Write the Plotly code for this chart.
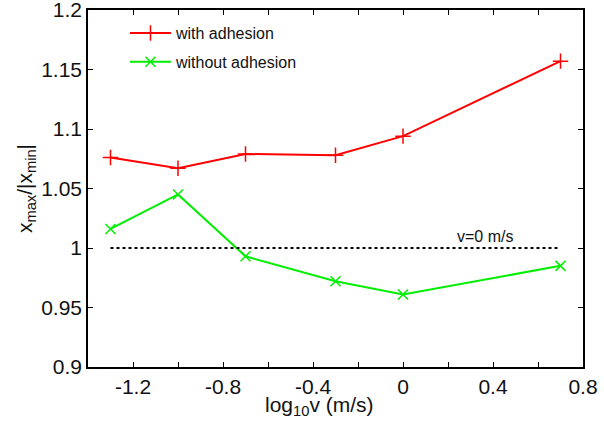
import plotly.graph_objects as go

log_v = [-1.3, -1.0, -0.7, -0.3, 0.0, 0.7]
with_adhesion = [1.076, 1.067, 1.079, 1.078, 1.094, 1.157]
without_adhesion = [1.016, 1.045, 0.993, 0.972, 0.961, 0.985]
ref_x = [-1.3, 0.7]
ref_y = [1.0, 1.0]
x_tickvals = [-1.4, -1.2, -1.0, -0.8, -0.6, -0.4, -0.2, 0.0, 0.2, 0.4, 0.6, 0.8]
x_ticktext = ["", "-1.2", "", "-0.8", "", "-0.4", "", "0", "", "0.4", "", "0.8"]
y_tickvals = [0.9, 0.95, 1.0, 1.05, 1.1, 1.15, 1.2]
y_ticktext = ["0.9", "0.95", "1", "1.05", "1.1", "1.15", "1.2"]

font = "Liberation Sans, Arial, sans-serif"
txt = "#111"
fig = go.Figure()
fig.add_trace(go.Scatter(x=log_v, y=with_adhesion, mode="lines+markers", name="with adhesion",
                         legendgroup="a",
                         line=dict(color="#ff0000", width=2),
                         marker=dict(symbol="cross-thin-open", size=11, line=dict(color="#ff0000", width=1.5))))
fig.add_trace(go.Scatter(x=log_v, y=without_adhesion, mode="lines+markers", name="without adhesion",
                         legendgroup="b",
                         line=dict(color="#00ee00", width=2),
                         marker=dict(symbol="x-thin-open", size=10, line=dict(color="#00ee00", width=1.5))))
fig.add_trace(go.Scatter(x=ref_x, y=ref_y, mode="lines", showlegend=False,
                         line=dict(color="black", width=2, dash="dot")))
fig.add_annotation(x=0.364, y=1.0, yshift=1, text="v=0 m/s", showarrow=False, yanchor="bottom",
                   font=dict(family=font, size=16, color=txt))
fig.add_annotation(xref="paper", yref="paper", x=0.4667, y=-0.071, yanchor="top", xanchor="center",
                   text="log<sub>10</sub>v (m/s)", showarrow=False, borderpad=0,
                   font=dict(family=font, size=21, color=txt))

axis_common = dict(showline=True, linecolor="black", linewidth=1.5, mirror="allticks", ticks="inside",
                   ticklen=5, tickcolor="black", showgrid=False, zeroline=False, automargin=False,
                   ticklabeloverflow="allow",
                   tickfont=dict(family=font, size=21, color=txt))
fig.update_xaxes(range=[-1.4, 0.8], tickvals=x_tickvals, ticktext=x_ticktext, **axis_common)
fig.update_yaxes(range=[0.9, 1.2], tickvals=y_tickvals, ticktext=y_ticktext,
                 title=dict(text="x<sub>max</sub>/|x<sub>min</sub>|", font=dict(family=font, size=21, color=txt), standoff=3),
                 **axis_common)
fig.update_layout(width=604, height=423, margin=dict(l=88, r=21, t=10, b=56),
                  plot_bgcolor="white", paper_bgcolor="white",
                  legend=dict(x=0.0747, y=0.983, xanchor="left", yanchor="top", bgcolor="rgba(0,0,0,0)",
                              itemwidth=41,
                              font=dict(family=font, size=16, color=txt), tracegroupgap=5))
fig.write_html("out.html")
